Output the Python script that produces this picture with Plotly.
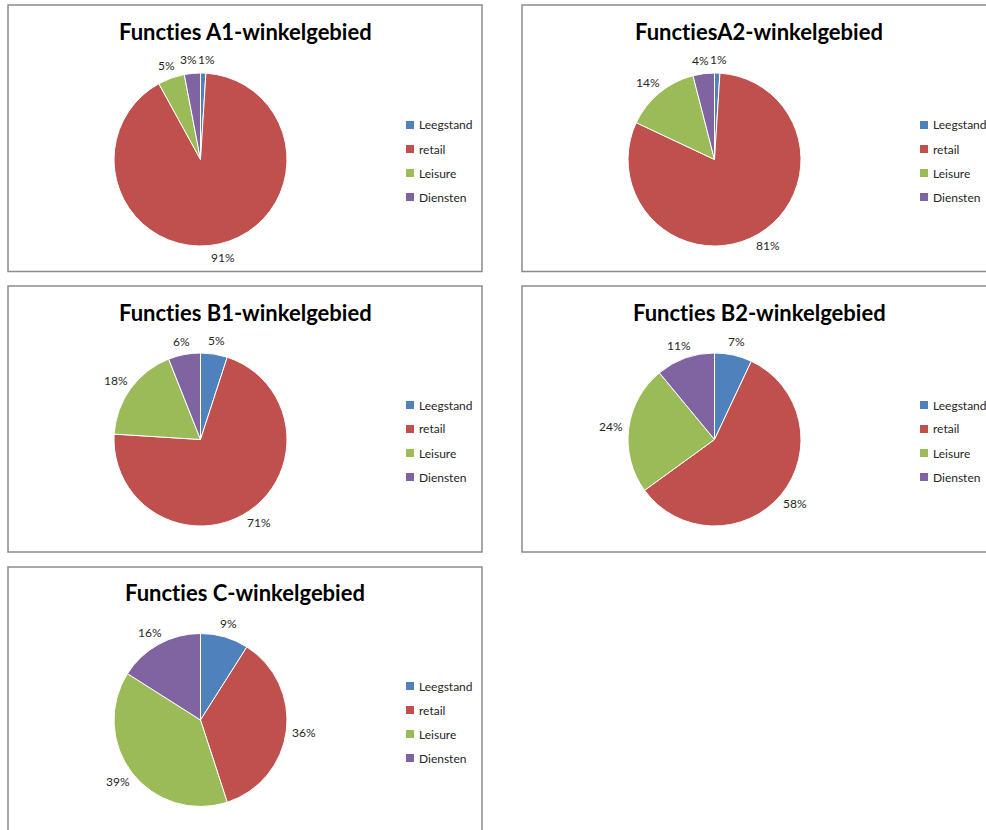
import math
import plotly.graph_objects as go

W, H = 986, 830

categories = ["Leegstand", "retail", "Leisure", "Diensten"]
colors = ["#4F81BD", "#C0504D", "#9BBB59", "#8064A2"]

titles = [
    "Functies A1-winkelgebied",
    "FunctiesA2-winkelgebied",
    "Functies B1-winkelgebied",
    "Functies B2-winkelgebied",
    "Functies C-winkelgebied",
]
share_a1 = [1, 91, 5, 3]
share_a2 = [1, 81, 14, 4]
share_b1 = [5, 71, 18, 6]
share_b2 = [7, 58, 24, 11]
share_c = [9, 36, 39, 16]
series = [share_a1, share_a2, share_b1, share_b2, share_c]

# panel layout in pixels: frame box, pie centre, title centre, legend anchor
panels = [
    dict(box=(8, 5, 482, 271.5), cx=200.5, cy=159.5, tx=245, ty=31, lx=406, ly=125),
    dict(box=(522, 5, 1000, 271.5), cx=714.5, cy=159.5, tx=759, ty=31, lx=920, ly=125),
    dict(box=(8, 286, 482, 552), cx=200.5, cy=439.5, tx=245, ty=312, lx=406, ly=405),
    dict(box=(522, 286, 1000, 552), cx=714.5, cy=439.5, tx=759, ty=312, lx=920, ly=405),
    dict(box=(8, 567, 482, 840), cx=200.5, cy=720, tx=245, ty=592, lx=406, ly=686),
]
R = 86.5          # pie radius
LABEL_GAP = 92    # distance from centre to the near edge of a data label
LABEL_SIZE = 12
LEG_STEP = 24
FONT = "Lato, Calibri, Arial, sans-serif"


def px(x):
    return x / W


def py(y):
    return 1 - y / H


def no_lig(s):
    # keep "ti" as two separate glyphs
    return s.replace("ti", "t\u200ci")


def text_width(text):
    return 0.58 * LABEL_SIZE * (len(text) - 1) + 0.87 * LABEL_SIZE


def label_positions(vals, cx, cy):
    """Outside-end label centres along each slice's mid angle
    (clockwise from 12 o'clock), nudged apart where they collide."""
    total = float(sum(vals))
    pos = []
    start = 0.0
    for v in vals:
        mid = math.radians((start + v / 2.0) / total * 360.0)
        start += v
        text = "%d%%" % v
        w = text_width(text)
        rx = LABEL_GAP + w / 2.0
        ry = LABEL_GAP + 8
        pos.append([cx + rx * math.sin(mid), cy - ry * math.cos(mid), text, w])
    n = len(pos)
    for i in range(n):
        a, b = pos[i], pos[(i + 1) % n]
        if abs(a[1] - b[1]) < LABEL_SIZE:
            need = (a[3] + b[3]) / 2.0 + 1
            gap = abs(a[0] - b[0])
            if gap < need:
                left, right = (a, b) if a[0] < b[0] else (b, a)
                shift = (need - gap) / 2.0
                left[0] -= shift
                right[0] += shift
    return pos


fig = go.Figure()
shapes = []
annotations = []

for title, vals, p in zip(titles, series, panels):
    fig.add_trace(go.Pie(
        labels=categories,
        values=vals,
        sort=False,
        direction="clockwise",
        rotation=0,
        marker=dict(colors=colors, line=dict(color="white", width=1)),
        textinfo="none",
        hoverinfo="label+percent",
        showlegend=False,
        domain=dict(x=[px(p["cx"] - R), px(p["cx"] + R)],
                    y=[py(p["cy"] + R), py(p["cy"] - R)]),
    ))

    for lx, ly, text, _ in label_positions(vals, p["cx"], p["cy"]):
        annotations.append(dict(text=text, xref="paper", yref="paper",
                                x=px(lx), y=py(ly), xanchor="center",
                                yanchor="middle", showarrow=False,
                                font=dict(family=FONT, size=LABEL_SIZE,
                                          color="#262626")))

    x0, y0, x1, y1 = p["box"]
    shapes.append(dict(type="rect", xref="paper", yref="paper",
                       x0=px(x0), x1=px(x1), y0=py(y1), y1=py(y0),
                       line=dict(color="#8C8C8C", width=1.5),
                       fillcolor="rgba(0,0,0,0)", layer="below"))

    annotations.append(dict(text="<b>%s</b>" % no_lig(title), xref="paper",
                            yref="paper", x=px(p["tx"]), y=py(p["ty"]),
                            xanchor="center", yanchor="middle", showarrow=False,
                            font=dict(family=FONT, size=22, color="#000000")))

    # legend: colour swatch + category name per row
    for i, (name, col) in enumerate(zip(categories, colors)):
        yy = p["ly"] + i * LEG_STEP
        shapes.append(dict(type="rect", xref="paper", yref="paper",
                           x0=px(p["lx"]), x1=px(p["lx"] + 8),
                           y0=py(yy + 4), y1=py(yy - 4),
                           line=dict(width=0), fillcolor=col))
        annotations.append(dict(text=name, xref="paper", yref="paper",
                                x=px(p["lx"] + 11), y=py(yy), xanchor="left",
                                yanchor="middle", showarrow=False,
                                font=dict(family=FONT, size=12, color="#262626")))

fig.update_layout(
    width=W, height=H,
    margin=dict(l=0, r=0, t=0, b=0),
    paper_bgcolor="white",
    plot_bgcolor="white",
    shapes=shapes,
    annotations=annotations,
)

fig.write_html("out.html")
